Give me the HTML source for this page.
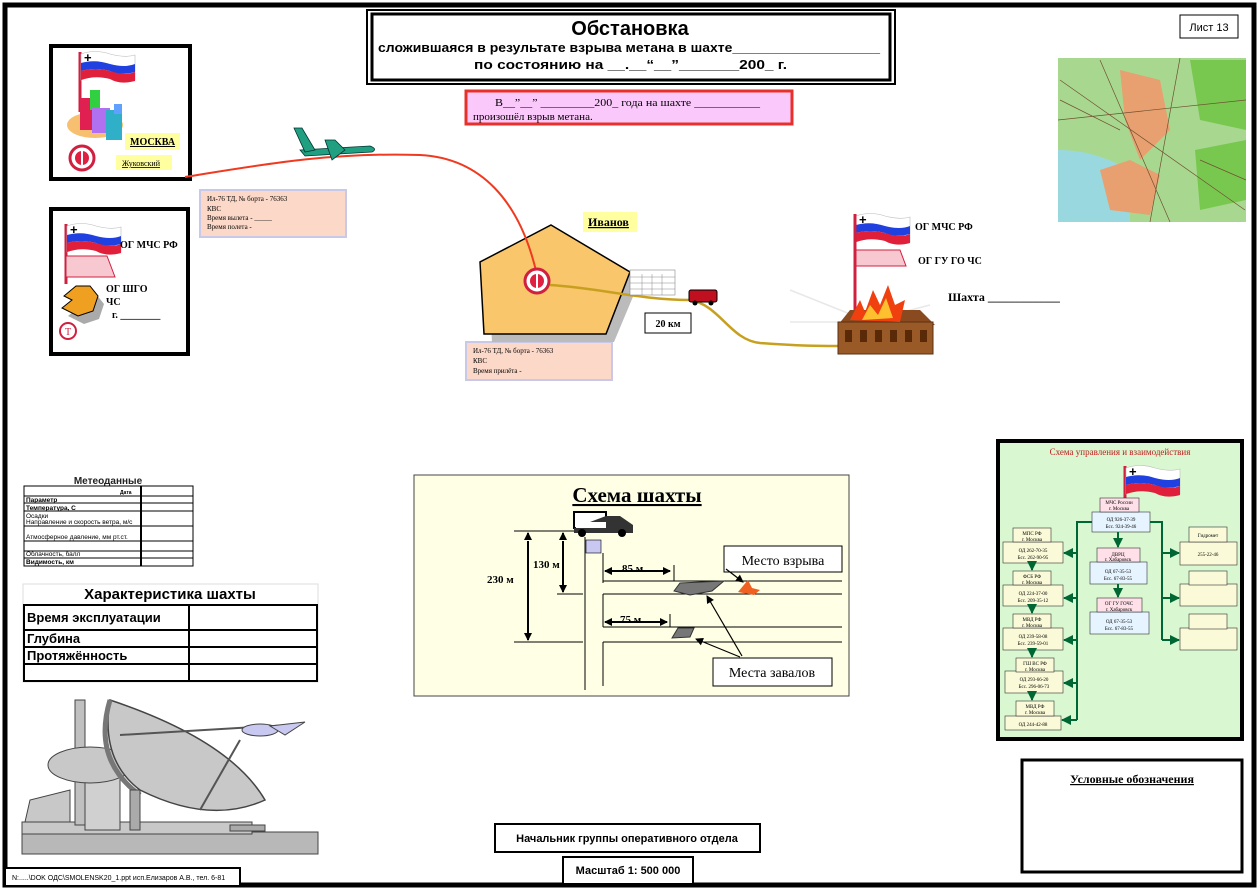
<!DOCTYPE html>
<html><head><meta charset="utf-8"><style>
html,body{margin:0;padding:0;background:#fff}
svg{display:block}
.s{font-family:"Liberation Serif","DejaVu Serif",serif}
.a{font-family:"Liberation Sans","DejaVu Sans",sans-serif}
</style></head><body>
<svg width="1260" height="891" viewBox="0 0 1260 891" xmlns="http://www.w3.org/2000/svg">
<defs>
<marker id="ar" markerWidth="8" markerHeight="8" refX="7" refY="4" orient="auto" markerUnits="userSpaceOnUse"><path d="M0,0 L8,4 L0,8 z" fill="#000"/></marker>
<marker id="ag" markerWidth="10" markerHeight="10" refX="9" refY="5" orient="auto" markerUnits="userSpaceOnUse"><path d="M0,0 L10,5 L0,10 z" fill="#063"/></marker>
<g id="flag">
<line x1="0" y1="0" x2="0" y2="60" stroke="#d02040" stroke-width="3"/>
<path d="M1,2 Q15,-3 30,2 Q45,6 55,3 L55,28 Q40,32 30,26 Q15,22 1,28 z" fill="#fff" stroke="#bbb" stroke-width="0.6"/>
<path d="M1,11 Q15,7 30,12 Q45,16 55,12 L55,20 Q40,24 30,19 Q15,15 1,19 z" fill="#2040e0"/>
<path d="M1,19 Q15,15 30,19 Q45,24 55,20 L55,29 Q40,33 30,27 Q15,23 1,28 z" fill="#e0203a"/>
<text x="4" y="10" font-size="13" font-weight="bold" class="a">+</text>
</g>
</defs>

<rect x="5" y="5" width="1249" height="880" fill="#fff" stroke="#000" stroke-width="5"/>

<rect x="367" y="10" width="528" height="74" fill="#fff" stroke="#000" stroke-width="2"/>
<rect x="372" y="14" width="518" height="66" fill="none" stroke="#000" stroke-width="3"/>
<text x="630" y="35" text-anchor="middle" class="a" font-size="20" font-weight="bold">Обстановка</text>
<text x="378" y="52" class="a" font-size="12.5" font-weight="bold" textLength="502" lengthAdjust="spacingAndGlyphs">сложившаяся в результате взрыва метана в шахте___________________</text>
<text x="474" y="69" class="a" font-size="12.5" font-weight="bold" textLength="313" lengthAdjust="spacingAndGlyphs">по состоянию на  __.__“__”_______200_   г.</text>

<rect x="1180" y="15" width="58" height="23" fill="#fff" stroke="#000"/>
<text x="1209" y="31" text-anchor="middle" class="a" font-size="11">Лист 13</text>

<rect x="466" y="91" width="326" height="33" fill="#fbc8fb" stroke="#e8302a" stroke-width="3"/>
<text x="495" y="106" class="s" font-size="11" textLength="265" lengthAdjust="spacingAndGlyphs">В__”__” _________200_ года на шахте ___________</text>
<text x="473" y="120" class="s" font-size="11">произошёл взрыв метана.</text>

<rect x="51" y="46" width="139" height="133" fill="#fff" stroke="#000" stroke-width="4"/>
<use href="#flag" x="80" y="52"/>
<ellipse cx="95" cy="125" rx="28" ry="13" fill="#f7c070"/>
<rect x="80" y="98" width="14" height="32" fill="#e02050"/>
<rect x="90" y="90" width="10" height="20" fill="#30d040"/>
<rect x="92" y="108" width="18" height="25" fill="#b070f0"/>
<rect x="106" y="110" width="16" height="30" fill="#30b0c8"/>
<rect x="114" y="104" width="8" height="10" fill="#60a0ff"/>
<rect x="125" y="133" width="55" height="17" fill="#ffffa0"/>
<text x="130" y="145" class="s" font-size="10" font-weight="bold" text-decoration="underline">МОСКВА</text>
<rect x="116" y="155" width="56" height="15" fill="#ffffa0"/>
<text x="122" y="166" class="s" font-size="8" text-decoration="underline">Жуковский</text>
<circle cx="82" cy="158" r="12" fill="#fff" stroke="#d02040" stroke-width="3"/>
<circle cx="82" cy="158" r="7" fill="#e02040"/>
<line x1="82" y1="150" x2="82" y2="166" stroke="#fff" stroke-width="2"/>

<rect x="51" y="209" width="137" height="145" fill="#fff" stroke="#000" stroke-width="4"/>
<use href="#flag" x="66" y="224"/>
<path d="M66,256 L107,256 L115,277 L66,277 z" fill="#f8c8d0" stroke="#d02040"/>
<text x="120" y="248" class="s" font-size="10" font-weight="bold">ОГ МЧС РФ</text>
<path d="M66,300 L78,290 L92,290 L100,300 L95,315 L80,320 L64,312 L74,304 z" fill="#aaa" transform="translate(4,4)"/>
<path d="M64,296 L76,286 L90,286 L98,296 L93,311 L78,316 L62,308 L72,300 z" fill="#f0a020" stroke="#000"/>
<text x="106" y="292" class="s" font-size="10" font-weight="bold">ОГ ШГО</text>
<text x="106" y="305" class="s" font-size="10" font-weight="bold">ЧС</text>
<text x="112" y="318" class="s" font-size="10" font-weight="bold">г. ________</text>
<circle cx="68" cy="331" r="8" fill="#fff" stroke="#d02040" stroke-width="2"/>
<text x="68" y="335" text-anchor="middle" class="s" font-size="10" fill="#d02040">T</text>

<rect x="200" y="190" width="146" height="47" fill="#fcd8c8" stroke="#c8c8e8" stroke-width="2"/>
<text x="207" y="201" class="s" font-size="7">Ил-76 ТД, № борта - 76363</text>
<text x="207" y="211" class="s" font-size="7">КВС</text>
<text x="207" y="220" class="s" font-size="7">Время вылета - _____</text>
<text x="207" y="229" class="s" font-size="7">Время полета  -</text>
<rect x="466" y="342" width="146" height="38" fill="#fcd8c8" stroke="#c8c8e8" stroke-width="2"/>
<text x="473" y="353" class="s" font-size="7">Ил-76 ТД, № борта - 76363</text>
<text x="473" y="363" class="s" font-size="7">КВС</text>
<text x="473" y="373" class="s" font-size="7">Время прилёта -</text>

<path d="M560,232 L640,280 L614,342 L492,342 L488,270 z" fill="#bbb"/>
<path d="M551,225 L630,272 L606,334 L484,334 L480,262 z" fill="#f9c66c" stroke="#000" stroke-width="1.5"/>
<rect x="583" y="212" width="54" height="20" fill="#ffffa0"/>
<text x="588" y="226" class="s" font-size="12" font-weight="bold" text-decoration="underline">Иванов</text>

<path d="M185,177 C260,165 330,152 420,155 C480,158 520,200 537,275" fill="none" stroke="#f03a20" stroke-width="2"/>
<path d="M550,285 C600,288 640,300 690,300 C720,305 730,340 760,343 C800,346 820,346 838,346" fill="none" stroke="#c8a020" stroke-width="2.5"/>
<circle cx="537" cy="281" r="12" fill="#fff" stroke="#d02040" stroke-width="3"/>
<circle cx="537" cy="281" r="7" fill="#e02040"/>
<line x1="537" y1="273" x2="537" y2="289" stroke="#fff" stroke-width="2"/>

<g fill="#20a080" stroke="#033" stroke-width="0.8">
<path d="M300,150 L370,146 Q378,149 372,152 L305,156 z"/>
<path d="M294,128 L302,128 L315,150 L305,152 z"/>
<path d="M325,140 L335,140 L345,150 L332,160 z"/>
</g>
<rect x="630" y="270" width="45" height="25" fill="#fff" stroke="#888" stroke-width="0.6"/>
<path d="M630,277 H675 M630,283 H675 M630,289 H675 M642,274 V295 M652,274 V295 M662,274 V295" stroke="#888" stroke-width="0.5"/>
<rect x="689" y="290" width="28" height="12" rx="2" fill="#c01020" stroke="#000"/>
<circle cx="695" cy="303" r="2.5" fill="#000"/><circle cx="711" cy="303" r="2.5" fill="#000"/>
<rect x="645" y="313" width="46" height="20" fill="#fff" stroke="#000"/>
<text x="668" y="327" text-anchor="middle" class="s" font-size="10" font-weight="bold">20 км</text>

<use href="#flag" x="855" y="214"/>
<line x1="855" y1="214" x2="855" y2="310" stroke="#d02040" stroke-width="3"/>
<path d="M856,250 L900,250 L906,266 L856,266 z" fill="#f8c8d0" stroke="#d02040"/>
<text x="915" y="230" class="s" font-size="10" font-weight="bold">ОГ МЧС РФ</text>
<text x="918" y="264" class="s" font-size="10" font-weight="bold">ОГ ГУ  ГО ЧС</text>
<text x="948" y="301" class="s" font-size="12" font-weight="bold">Шахта ____________</text>
<g stroke="#e8e8e8" stroke-width="1.5"><line x1="790" y1="290" x2="860" y2="318"/><line x1="930" y1="305" x2="880" y2="318"/><line x1="790" y1="322" x2="850" y2="322"/></g>
<path d="M838,325 L850,310 L920,310 L935,325 z" fill="#8a4a20"/>
<rect x="838" y="322" width="95" height="32" fill="#9a5a28" stroke="#5a3010"/>
<g fill="#5a2a08"><rect x="845" y="330" width="7" height="12"/><rect x="860" y="330" width="7" height="12"/><rect x="875" y="330" width="7" height="12"/><rect x="890" y="330" width="7" height="12"/><rect x="905" y="330" width="7" height="12"/><rect x="920" y="330" width="7" height="12"/></g>
<path d="M850,320 L860,300 L865,312 L873,290 L880,305 L888,285 L895,305 L905,300 L900,322 z" fill="#f04010"/>
<path d="M862,320 L870,305 L878,315 L886,298 L893,318 z" fill="#ffc030"/>

<rect x="1058" y="58" width="188" height="164" fill="#a8d890"/>
<path d="M1058,150 C1090,150 1110,160 1130,170 L1130,222 L1058,222 z" fill="#9ad8e0"/>
<path d="M1120,70 L1160,80 L1170,130 L1140,160 L1125,120 z" fill="#e8a070"/>
<path d="M1100,170 L1130,160 L1160,175 L1150,215 L1110,210 z" fill="#e8a070"/>
<path d="M1190,60 L1246,60 L1246,130 L1200,120 z" fill="#78c850"/>
<path d="M1195,150 L1246,140 L1246,200 L1200,210 z" fill="#78c850"/>
<path d="M1060,80 L1245,210 M1100,60 L1170,222 M1058,120 L1246,100 M1180,58 L1150,222 M1060,100 L1120,130 M1200,160 L1246,180" stroke="#705030" stroke-width="0.7" fill="none"/>

<g class="a" font-size="6.5" font-weight="bold">
<text x="108" y="484" text-anchor="middle" font-size="10" fill="#222">Метеоданные</text>
<rect x="24" y="486" width="169" height="80" fill="#fff" stroke="#000" stroke-width="1"/>
<line x1="141" y1="486" x2="141" y2="566" stroke="#000" stroke-width="2"/>
<path d="M24,496 H193 M24,503 H193 M24,511 H193 M24,526 H193 M24,551 H193 M24,558 H193 M24,541 H193" stroke="#000"/>
<text x="120" y="494" font-size="5">Дата</text>
<text x="26" y="502">Параметр</text>
<text x="26" y="510">Температура, С</text>
<text x="26" y="518" font-weight="normal">Осадки</text>
<text x="26" y="524" font-weight="normal">Направление и скорость ветра, м/с</text>
<text x="26" y="539" font-weight="normal">Атмосферное давление, мм рт.ст.</text>
<text x="26" y="556" font-weight="normal">Облачность, балл</text>
<text x="26" y="564">Видимость, км</text>
</g>

<rect x="23" y="584" width="295" height="98" fill="#fff" stroke="#ddd"/>
<text x="170" y="599" text-anchor="middle" class="a" font-size="15" font-weight="bold">Характеристика шахты</text>
<rect x="24" y="605" width="293" height="76" fill="none" stroke="#000" stroke-width="2"/>
<line x1="189" y1="605" x2="189" y2="681" stroke="#000" stroke-width="2"/>
<path d="M24,630 H317 M24,647 H317 M24,664 H317" stroke="#000" stroke-width="2"/>
<text x="27" y="622" class="a" font-size="13" font-weight="bold">Время эксплуатации</text>
<text x="27" y="643" class="a" font-size="13" font-weight="bold">Глубина</text>
<text x="27" y="660" class="a" font-size="13" font-weight="bold">Протяжённость</text>

<g stroke="#444" stroke-width="1">
<rect x="22" y="832" width="296" height="22" fill="#b8b8b8"/>
<rect x="22" y="822" width="230" height="12" fill="#c8c8c8"/>
<rect x="75" y="700" width="10" height="125" fill="#c0c0c0"/>
<rect x="85" y="760" width="35" height="70" fill="#d0d0d0"/>
<ellipse cx="90" cy="765" rx="42" ry="18" fill="#c8c8c8"/>
<path d="M25,822 L30,800 L70,790 L70,822 z" fill="#c8c8c8"/>
<path d="M110,700 Q100,760 140,790 Q210,825 265,800 Q230,740 110,700 z" fill="#c8c8c8" stroke-width="1.5"/>
<path d="M110,700 Q92,760 140,795" fill="none" stroke="#777" stroke-width="5"/>
<path d="M120,735 L290,725 M240,740 L200,810" stroke="#555" stroke-width="2"/>
<ellipse cx="260" cy="730" rx="18" ry="6" fill="#c8c8f0"/>
<path d="M270,726 L305,722 L285,735 z" fill="#c8c8f0"/>
<rect x="130" y="790" width="10" height="40" fill="#aaa"/>
<rect x="230" y="825" width="35" height="6" fill="#aaa"/>
</g>

<rect x="414" y="475" width="435" height="221" fill="#ffffe6" stroke="#444" stroke-width="1"/>
<text x="637" y="502" text-anchor="middle" class="s" font-size="21" font-weight="bold" text-decoration="underline">Схема шахты</text>
<g>
<rect x="574" y="512" width="32" height="16" fill="#fff" stroke="#000" stroke-width="2"/>
<path d="M606,516 L620,516 L633,525 L633,533 L574,533 L574,528 z" fill="#333"/>
<rect x="576" y="522" width="30" height="6" fill="#fff"/>
<circle cx="582" cy="533" r="4" fill="#000"/><circle cx="622" cy="533" r="4" fill="#000"/>
</g>
<rect x="586" y="540" width="15" height="13" fill="#c8c8f0" stroke="#000" stroke-width="0.6"/>
<g stroke="#000" stroke-width="1" fill="none">
<line x1="585" y1="537" x2="585" y2="690"/>
<line x1="603" y1="553" x2="603" y2="583"/>
<line x1="603" y1="594" x2="603" y2="627"/>
<line x1="603" y1="642" x2="603" y2="686"/>
<line x1="514" y1="531" x2="574" y2="531"/>
<line x1="603" y1="581" x2="842" y2="581"/>
<line x1="603" y1="594" x2="842" y2="594"/>
<line x1="557" y1="594" x2="583" y2="594"/>
<line x1="603" y1="627" x2="842" y2="627"/>
<line x1="603" y1="642" x2="842" y2="642"/>
<line x1="514" y1="642" x2="583" y2="642"/>
<line x1="674" y1="565" x2="674" y2="581"/>
<line x1="670" y1="614" x2="670" y2="627"/>
</g>
<g stroke="#000" stroke-width="2">
<line x1="528" y1="541" x2="528" y2="640" marker-end="url(#ar)"/>
<line x1="528" y1="538" x2="528" y2="533" marker-end="url(#ar)"/>
<line x1="563" y1="541" x2="563" y2="592" marker-end="url(#ar)"/>
<line x1="563" y1="538" x2="563" y2="533" marker-end="url(#ar)"/>
<line x1="612" y1="571" x2="670" y2="571" marker-end="url(#ar)"/>
<line x1="612" y1="571" x2="605" y2="571" marker-end="url(#ar)"/>
<line x1="612" y1="622" x2="667" y2="622" marker-end="url(#ar)"/>
<line x1="612" y1="622" x2="605" y2="622" marker-end="url(#ar)"/>
</g>
<text x="487" y="583" class="s" font-size="11" font-weight="bold">230 м</text>
<text x="533" y="568" class="s" font-size="11" font-weight="bold">130 м</text>
<text x="622" y="572" class="s" font-size="11" font-weight="bold">85 м</text>
<text x="620" y="623" class="s" font-size="11" font-weight="bold">75 м</text>
<path d="M674,591 L680,583 L724,581 L712,591 L690,595 z" fill="#777" stroke="#333"/>
<path d="M672,638 L678,628 L694,628 L690,637 z" fill="#777" stroke="#333"/>
<path d="M738,592 L748,580 L752,588 L760,590 L754,595 z" fill="#f06020"/>
<rect x="724" y="546" width="118" height="26" fill="#fff" stroke="#000"/>
<text x="783" y="565" text-anchor="middle" class="s" font-size="14">Место взрыва</text>
<rect x="713" y="658" width="119" height="28" fill="#fff" stroke="#000"/>
<text x="772" y="677" text-anchor="middle" class="s" font-size="14">Места завалов</text>
<g stroke="#000" stroke-width="1.2">
<line x1="726" y1="569" x2="743" y2="582" marker-end="url(#ar)"/>
<line x1="742" y1="656" x2="707" y2="596" marker-end="url(#ar)"/>
<line x1="740" y1="657" x2="696" y2="639" marker-end="url(#ar)"/>
</g>

<rect x="998" y="441" width="244" height="298" fill="#d9f7d0" stroke="#000" stroke-width="4"/>
<text x="1120" y="455" text-anchor="middle" class="s" font-size="9" fill="#c02020">Схема управления и взаимодействия</text>
<use href="#flag" x="1125" y="466"/>
<g class="s" font-size="5.5" text-anchor="middle" stroke="#333" stroke-width="0.6">
<rect x="1092" y="512" width="58" height="20" fill="#e6f4ff"/>
<rect x="1100" y="498" width="39" height="14" fill="#ffe0e8"/>
<rect x="1090" y="562" width="57" height="22" fill="#e6f4ff"/>
<rect x="1097" y="548" width="43" height="14" fill="#ffe0e8"/>
<rect x="1090" y="612" width="59" height="22" fill="#e6f4ff"/>
<rect x="1097" y="598" width="45" height="14" fill="#ffe0e8"/>
<rect x="1003" y="542" width="60" height="21" fill="#fafad8"/><rect x="1013" y="528" width="38" height="14" fill="#fafad8"/>
<rect x="1003" y="585" width="60" height="21" fill="#fafad8"/><rect x="1013" y="571" width="38" height="14" fill="#fafad8"/>
<rect x="1003" y="628" width="60" height="22" fill="#fafad8"/><rect x="1013" y="614" width="38" height="14" fill="#fafad8"/>
<rect x="1005" y="671" width="58" height="22" fill="#fafad8"/><rect x="1016" y="658" width="38" height="14" fill="#fafad8"/>
<rect x="1005" y="716" width="56" height="14" fill="#fafad8"/><rect x="1016" y="701" width="38" height="15" fill="#fafad8"/>
<rect x="1180" y="542" width="57" height="23" fill="#fafad8"/><rect x="1189" y="527" width="38" height="15" fill="#fafad8"/>
<rect x="1180" y="584" width="57" height="22" fill="#fafad8"/><rect x="1189" y="571" width="38" height="14" fill="#fafad8"/>
<rect x="1180" y="628" width="57" height="22" fill="#fafad8"/><rect x="1189" y="614" width="38" height="15" fill="#fafad8"/>
</g>
<g class="s" font-size="5" text-anchor="middle">
<text x="1119" y="504">МЧС России</text><text x="1119" y="510">г. Москва</text>
<text x="1121" y="521">ОД 926-37-39</text><text x="1121" y="528">Бсс. 924-39-46</text>
<text x="1118" y="556">ДВРЦ</text><text x="1118" y="561">г. Хабаровск</text>
<text x="1118" y="573">ОД 67-35-53</text><text x="1118" y="580">Бсс. 67-83-55</text>
<text x="1119" y="605">ОГ ГУ ГОЧС</text><text x="1119" y="611">г. Хабаровск</text>
<text x="1119" y="623">ОД 67-35-53</text><text x="1119" y="630">Бсс. 67-83-55</text>
<text x="1032" y="535">МПС РФ</text><text x="1032" y="541">г. Москва</text>
<text x="1033" y="552">ОД 262-70-35</text><text x="1033" y="559">Бсс. 262-90-95</text>
<text x="1032" y="578">ФСБ РФ</text><text x="1032" y="584">г. Москва</text>
<text x="1033" y="595">ОД 224-37-00</text><text x="1033" y="602">Бсс. 209-35-12</text>
<text x="1032" y="621">МВД РФ</text><text x="1032" y="627">г. Москва</text>
<text x="1033" y="638">ОД 239-58-08</text><text x="1033" y="645">Бсс. 239-59-01</text>
<text x="1035" y="665">ГШ ВС РФ</text><text x="1035" y="671">г. Москва</text>
<text x="1034" y="681">ОД 293-66-20</text><text x="1034" y="688">Бсс. 296-06-73</text>
<text x="1035" y="708">МВД РФ</text><text x="1035" y="714">г. Москва</text>
<text x="1033" y="726">ОД 244-42-88</text>
<text x="1208" y="537">Гидромет</text>
<text x="1208" y="556">255-22-46</text>
</g>
<g stroke="#063" stroke-width="2" fill="none">
<path d="M1092,522 H1077 V720"/>
<path d="M1150,522 H1162 V640"/>
<line x1="1077" y1="553" x2="1064" y2="553" marker-end="url(#ag)"/>
<line x1="1077" y1="598" x2="1064" y2="598" marker-end="url(#ag)"/>
<line x1="1077" y1="640" x2="1064" y2="640" marker-end="url(#ag)"/>
<line x1="1077" y1="683" x2="1064" y2="683" marker-end="url(#ag)"/>
<line x1="1077" y1="720" x2="1062" y2="720" marker-end="url(#ag)"/>
<line x1="1162" y1="553" x2="1179" y2="553" marker-end="url(#ag)"/>
<line x1="1162" y1="598" x2="1179" y2="598" marker-end="url(#ag)"/>
<line x1="1162" y1="640" x2="1179" y2="640" marker-end="url(#ag)"/>
<line x1="1118" y1="532" x2="1118" y2="547" marker-end="url(#ag)"/>
<line x1="1118" y1="584" x2="1118" y2="597" marker-end="url(#ag)"/>
<line x1="1032" y1="563" x2="1032" y2="570" marker-end="url(#ag)"/>
<line x1="1032" y1="606" x2="1032" y2="613" marker-end="url(#ag)"/>
<line x1="1032" y1="650" x2="1032" y2="657" marker-end="url(#ag)"/>
<line x1="1032" y1="693" x2="1032" y2="700" marker-end="url(#ag)"/>
</g>

<rect x="1022" y="760" width="220" height="112" fill="#fff" stroke="#000" stroke-width="3"/>
<text x="1132" y="783" text-anchor="middle" class="s" font-size="12" font-weight="bold" text-decoration="underline">Условные обозначения</text>

<rect x="495" y="824" width="265" height="28" fill="#fff" stroke="#000" stroke-width="2"/>
<text x="627" y="842" text-anchor="middle" class="a" font-size="11" font-weight="bold">Начальник группы оперативного отдела</text>
<rect x="563" y="857" width="130" height="27" fill="#fff" stroke="#000" stroke-width="2"/>
<text x="628" y="874" text-anchor="middle" class="a" font-size="11" font-weight="bold">Масштаб 1: 500 000</text>
<rect x="5" y="868" width="235" height="18" fill="#fff" stroke="#000" stroke-width="2"/>
<text x="12" y="880" class="a" font-size="7">N:.....\DOK ОДС\SMOLENSK20_1.ppt  исп.Елизаров А.В., тел. 6-81</text>
</svg>
</body></html>
